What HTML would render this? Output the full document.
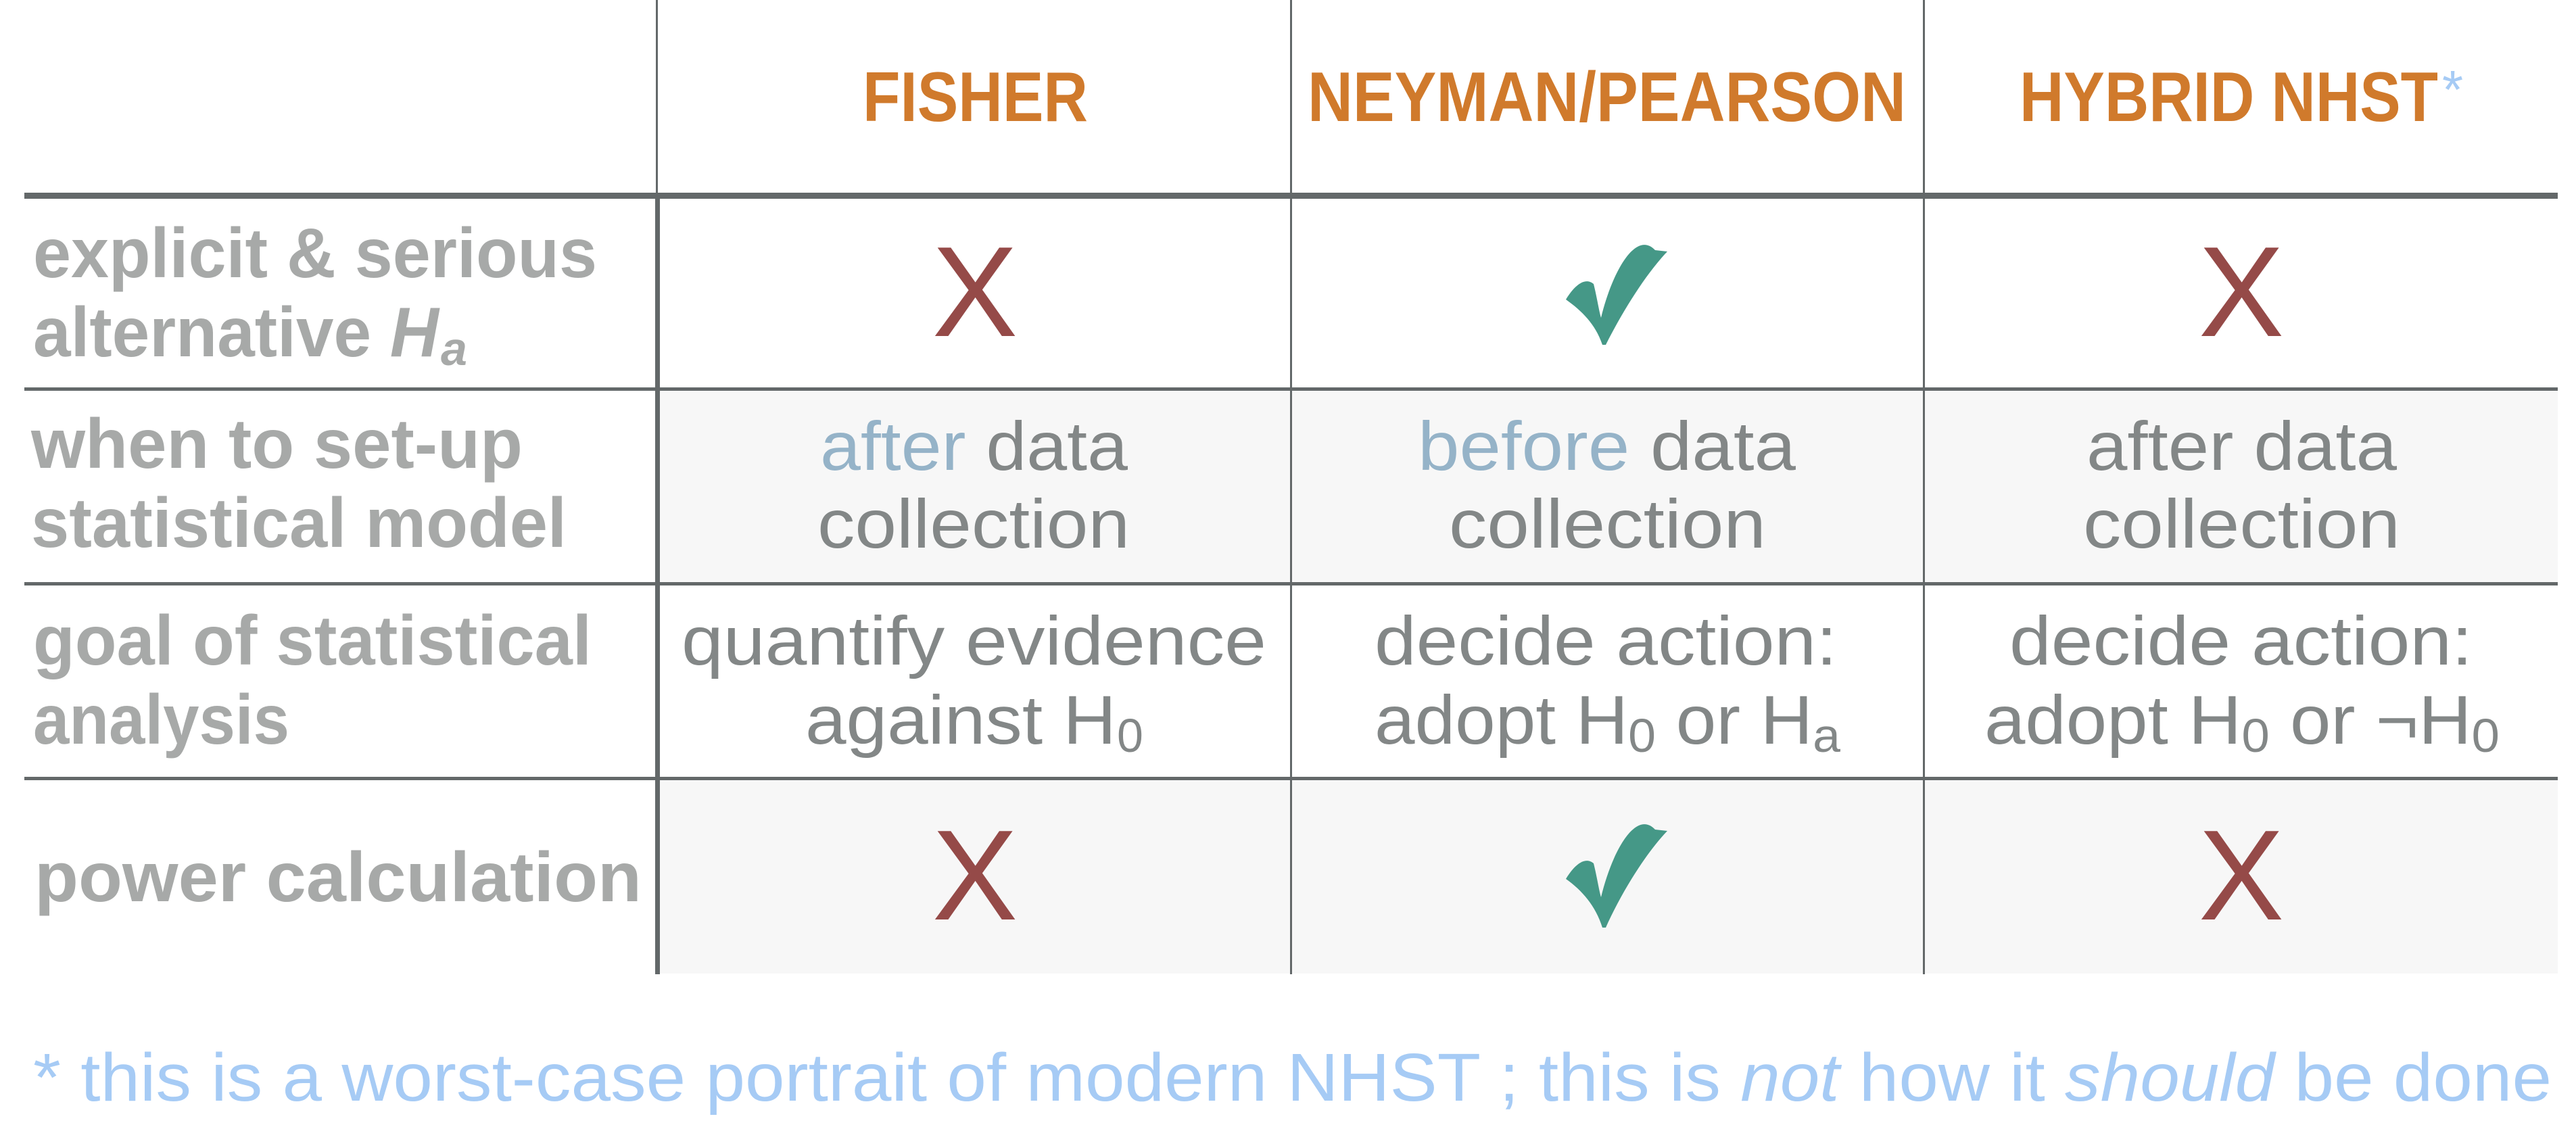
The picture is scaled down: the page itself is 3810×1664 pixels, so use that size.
<!DOCTYPE html>
<html><head><meta charset="utf-8"><style>
html,body{margin:0;padding:0;background:#fff;}
svg{display:block;}
.lab{font-family:"Liberation Sans",sans-serif;font-weight:bold;font-size:104px;fill:#a7a9a8;}
.cell{font-family:"Liberation Sans",sans-serif;font-size:102px;fill:#838787;}
.hd{font-family:"Liberation Sans",sans-serif;font-weight:bold;font-size:104px;fill:#d07a2c;}
.x{font-family:"Liberation Sans",sans-serif;font-size:190px;fill:#954a48;}
</style></head><body>
<svg width="3810" height="1664" viewBox="0 0 3810 1664" xmlns="http://www.w3.org/2000/svg">
<rect x="976" y="576" width="2807" height="287" fill="#f7f7f7"/>
<rect x="976" y="1152" width="2807" height="288" fill="#f7f7f7"/>
<rect x="36" y="285" width="3747" height="9" fill="#636869"/>
<rect x="36" y="573" width="3747" height="5" fill="#636869"/>
<rect x="36" y="861" width="3747" height="5" fill="#636869"/>
<rect x="36" y="1149" width="3747" height="5" fill="#636869"/>
<rect x="970" y="0" width="3" height="290" fill="#636869"/>
<rect x="969" y="290" width="7" height="1151" fill="#636869"/>
<rect x="1908" y="0" width="3" height="1441" fill="#636869"/>
<rect x="2844" y="0" width="3" height="1441" fill="#636869"/>
<text class="hd" x="1276" y="179" textLength="333" lengthAdjust="spacingAndGlyphs">FISHER</text>
<text class="hd" x="1934" y="179" textLength="885" lengthAdjust="spacingAndGlyphs">NEYMAN/PEARSON</text>
<text class="hd" x="2987" y="179" textLength="619" lengthAdjust="spacingAndGlyphs">HYBRID NHST</text>
<text x="3612" y="160" style="font-family:'Liberation Sans',sans-serif;font-size:80px;fill:#a6cbf5">*</text>
<text class="lab" x="49" y="410" textLength="834" lengthAdjust="spacingAndGlyphs">explicit &amp; serious</text>
<text class="lab" x="49" y="527" textLength="600" lengthAdjust="spacingAndGlyphs">alternative <tspan font-style="italic">H</tspan></text>
<text class="lab" x="652" y="540" font-style="italic" style="font-size:70px">a</text>
<text class="lab" x="46" y="692" textLength="727" lengthAdjust="spacingAndGlyphs">when to set-up</text>
<text class="lab" x="46" y="809" textLength="792" lengthAdjust="spacingAndGlyphs">statistical model</text>
<text class="lab" x="49" y="983" textLength="826" lengthAdjust="spacingAndGlyphs">goal of statistical</text>
<text class="lab" x="49" y="1100" textLength="379" lengthAdjust="spacingAndGlyphs">analysis</text>
<text class="lab" x="51" y="1333" textLength="898" lengthAdjust="spacingAndGlyphs">power calculation</text>
<text class="x" x="1442" y="497" text-anchor="middle">X</text>
<text class="x" x="3315" y="497" text-anchor="middle">X</text>
<path d="M2316 443 C2330 420 2345 410 2357 420 C2362 440 2365 460 2368 470 C2385 400 2420 340 2448 370 L2466 372 C2430 410 2395 470 2375 510 L2370 510 C2360 480 2340 460 2316 443 Z" fill="#459887"/>
<text class="cell" x="1213" y="695" textLength="455" lengthAdjust="spacingAndGlyphs"><tspan fill="#95b3c8">after</tspan> data</text>
<text class="cell" x="1209" y="810" textLength="462" lengthAdjust="spacingAndGlyphs">collection</text>
<text class="cell" x="2097" y="695" textLength="559" lengthAdjust="spacingAndGlyphs"><tspan fill="#95b3c8">before</tspan> data</text>
<text class="cell" x="2143" y="810" textLength="469" lengthAdjust="spacingAndGlyphs">collection</text>
<text class="cell" x="3086" y="695" textLength="459" lengthAdjust="spacingAndGlyphs">after data</text>
<text class="cell" x="3081" y="810" textLength="469" lengthAdjust="spacingAndGlyphs">collection</text>
<text class="cell" x="1008" y="983" textLength="865" lengthAdjust="spacingAndGlyphs">quantify evidence</text>
<text class="cell" x="1191" y="1100" textLength="460" lengthAdjust="spacingAndGlyphs">against H</text>
<text class="cell" x="1652" y="1112" style="font-size:70px">0</text>
<text class="cell" x="2033" y="983" textLength="684" lengthAdjust="spacingAndGlyphs">decide action:</text>
<text class="cell" x="2033" y="1100" textLength="689" lengthAdjust="spacingAndGlyphs">adopt H<tspan dy="12" style="font-size:70px">0</tspan><tspan dy="-12"> or H</tspan><tspan dy="12" style="font-size:70px">a</tspan></text>
<text class="cell" x="2972" y="983" textLength="685" lengthAdjust="spacingAndGlyphs">decide action:</text>
<text class="cell" x="2935" y="1100" textLength="762" lengthAdjust="spacingAndGlyphs">adopt H<tspan dy="12" style="font-size:70px">0</tspan><tspan dy="-12"> or ¬H</tspan><tspan dy="12" style="font-size:70px">0</tspan></text>
<text class="x" x="1442" y="1360" text-anchor="middle">X</text>
<text class="x" x="3315" y="1360" text-anchor="middle">X</text>
<path d="M2316 1300 C2330 1277 2345 1267 2357 1277 C2362 1297 2365 1317 2368 1327 C2385 1257 2420 1197 2448 1227 L2466 1229 C2430 1267 2395 1327 2375 1372 L2370 1372 C2360 1340 2340 1317 2316 1300 Z" fill="#459887"/>
<text x="49" y="1628" textLength="3725" lengthAdjust="spacingAndGlyphs" style="font-family:'Liberation Sans',sans-serif;font-size:100px;fill:#a6cbf5">* this is a worst-case portrait of modern NHST ; this is <tspan font-style="italic">not</tspan> how it <tspan font-style="italic">should</tspan> be done</text>
</svg>
</body></html>
